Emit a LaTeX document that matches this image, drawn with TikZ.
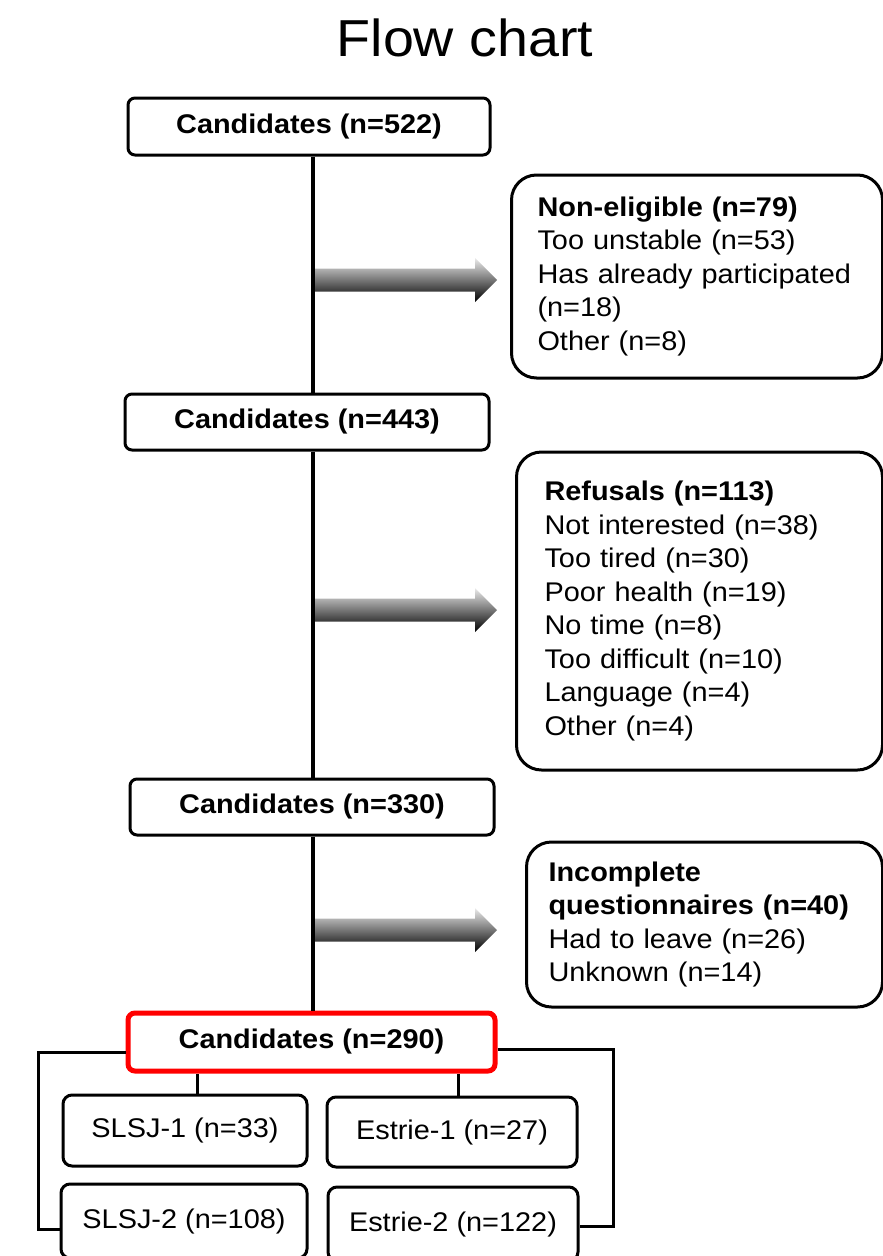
\documentclass[tikz,border=0pt]{standalone}
\usepackage{fontspec}
\setmainfont{Liberation Sans}[FakeStretch=1.07]
\begin{document}
\begin{tikzpicture}[x=1pt,y=-1pt]

\tikzset{heading/.style = {font=\fontsize{52}{60}\selectfont,inner sep=0pt,anchor=base}}
\tikzset{candbox/.style = {shape=rectangle,draw,line width=3pt,rounded corners=7pt,minimum width=362pt,minimum height=57pt,inner sep=0pt,font=\bfseries\fontsize{27}{33.5}\selectfont}}
\tikzset{reasonbox/.style = {shape=rectangle,draw,line width=3pt,rounded corners=25pt,anchor=west,align=left,inner ysep=0pt,font=\fontsize{27}{33.5}\selectfont}}
\tikzset{groupbox/.style = {shape=rectangle,draw,line width=3pt,rounded corners=9pt,inner sep=0pt,font=\fontsize{27}{33.5}\selectfont}}
\tikzset{blockarrow/.style = {top color=black!8,bottom color=black}}
\tikzset{link/.style = {line width=3pt}}

\useasboundingbox (0,0) rectangle (883,1256);
\clip (0,0) rectangle (883,1256);

%title
\node[heading] (title) at (465,56) {Flow chart};

%candidates
\node[candbox] (cand522) at (309,126.5) {Candidates (n=522)};
\node[candbox, minimum width=364pt, minimum height=56pt] (cand443) at (307,422) {Candidates (n=443)};
\node[candbox, minimum width=364pt, minimum height=56pt] (cand330) at (312,807) {Candidates (n=330)};
\node[candbox, draw=red, line width=5pt, minimum width=367pt, minimum height=58pt] (cand290) at (311.5,1042) {Candidates (n=290)};

%exclusions
\node[reasonbox, minimum width=371pt, minimum height=203pt, inner xsep=26pt, text width=319pt] (nonelig) at (510,276.5)
  {\textbf{Non-eligible (n=79)}\\Too unstable (n=53)\\Has already participated\\(n=18)\\Other (n=8)};
\node[reasonbox, minimum width=366pt, minimum height=318pt, inner xsep=28pt, text width=310pt] (refusals) at (515,611)
  {\textbf{Refusals (n=113)}\\Not interested (n=38)\\Too tired (n=30)\\Poor health (n=19)\\No time (n=8)\\Too difficult (n=10)\\Language (n=4)\\Other (n=4)};
\node[reasonbox, minimum width=356pt, minimum height=165pt, inner xsep=22pt, text width=312pt] (incompl) at (525,924.5)
  {\textbf{Incomplete}\\\textbf{questionnaires (n=40)}\\Had to leave (n=26)\\Unknown (n=14)};

%groups
\node[groupbox, minimum width=244pt, minimum height=71pt] (slsj1) at (185,1130.5) {SLSJ-1 (n=33)};
\node[groupbox, minimum width=250pt, minimum height=70pt] (estrie1) at (452,1132) {Estrie-1 (n=27)};
\node[groupbox, minimum width=246pt, minimum height=74pt] (slsj2) at (184,1221) {SLSJ-2 (n=108)};
\node[groupbox, minimum width=250pt, minimum height=74pt] (estrie2) at (453,1224) {Estrie-2 (n=122)};

%arrows
\shade[blockarrow] (312,268.5) -- (475,268.5) -- (475,258) -- (497,280) -- (475,302) -- (475,291.5) -- (312,291.5) -- cycle;
\shade[blockarrow] (312,598.5) -- (475,598.5) -- (475,588) -- (497,610) -- (475,632) -- (475,621.5) -- (312,621.5) -- cycle;
\shade[blockarrow] (312,918.5) -- (475,918.5) -- (475,908) -- (497,930) -- (475,952) -- (475,941.5) -- (312,941.5) -- cycle;

%edges
\coordinate (trunk) at (313,0);
\draw[link, line width=3.5pt] (cand522.south -| trunk) -- (cand443.north -| trunk);
\draw[link, line width=3.5pt] (cand443.south -| trunk) -- (cand330.north -| trunk);
\draw[link, line width=3.5pt] (cand330.south -| trunk) -- (cand290.north -| trunk);

\coordinate (stubL) at ([xshift=12pt]slsj1.north);
\coordinate (stubR) at ([xshift=6pt]estrie1.north);
\draw[link] (stubL) -- (stubL |- cand290.south);
\draw[link] (stubR) -- (stubR |- cand290.south);

\coordinate (leftbar) at (38,0);
\coordinate (rightbar) at (613,0);
\coordinate (lstart) at ([yshift=-10pt]cand290.west);
\coordinate (rstart) at ([yshift=-7.5pt]cand290.east);
\coordinate (lend) at ([yshift=-8pt]slsj2.west);
\coordinate (rend) at ([yshift=-2pt]estrie2.east);
\draw[link] (lstart) -| (lend -| leftbar) -- (lend);
\draw[link] (rstart) -| (rend -| rightbar) -- (rend);

\end{tikzpicture}
\end{document}
